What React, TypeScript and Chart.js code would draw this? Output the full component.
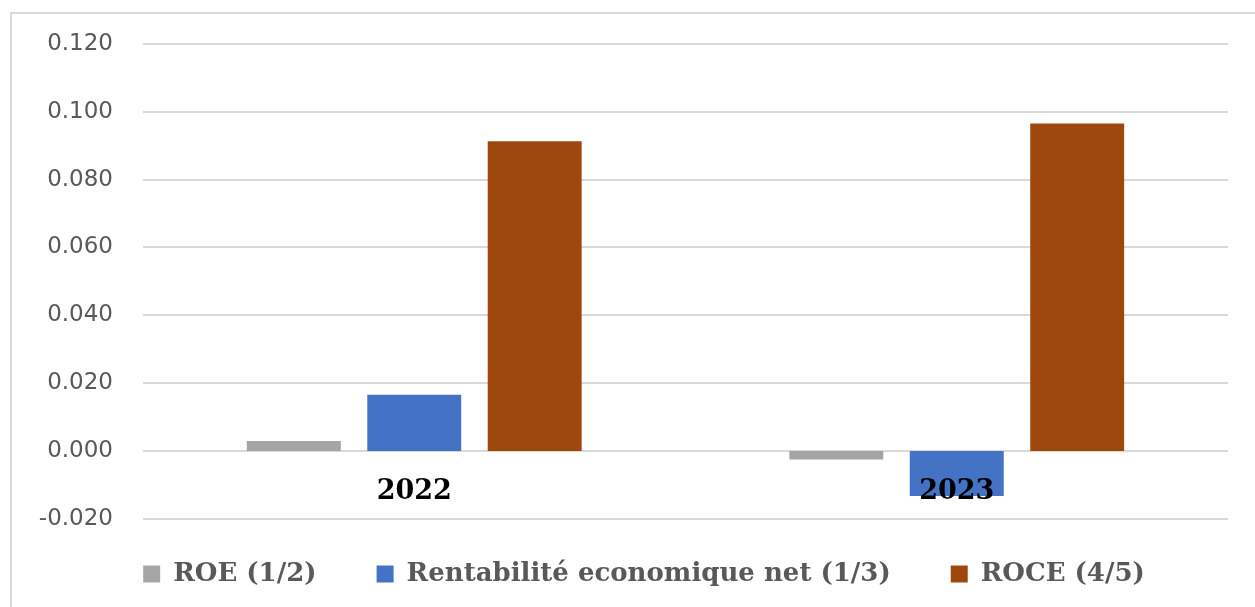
import React, { useEffect, useRef } from "react";
import { Chart, registerables } from "chart.js";

Chart.register(...registerables);

const categories = ["2022", "2023"];
const seriesNames = ["ROE (1/2)", "Rentabilité economique net (1/3)", "ROCE (4/5)"];
const roeValues = [0.003, -0.0025];
const rentabiliteValues = [0.0166, -0.0132];
const roceValues = [0.0913, 0.0965];
const seriesColors = ["#a5a5a5", "#4472c4", "#9e480e"];
const yMin = -0.02;
const yMax = 0.12;
const yStep = 0.02;

const legendShift = {
  id: "legendShift",
  afterLayout(chart: any) {
    const l = chart.legend;
    if (!l) return;
    l.left += 20;
    l.right += 20;
    l.top -= 18;
    l.bottom -= 18;
  },
};

export default function App() {
  const canvasRef = useRef<HTMLCanvasElement | null>(null);

  useEffect(() => {
    const canvas = canvasRef.current;
    if (!canvas) return;
    const values = [roeValues, rentabiliteValues, roceValues];
    const chart = new Chart(canvas, {
      type: "bar",
      data: {
        labels: categories,
        datasets: seriesNames.map((name, i) => ({
          label: name,
          data: values[i],
          backgroundColor: seriesColors[i],
          borderWidth: 0,
          categoryPercentage: 0.666,
          barPercentage: 0.78,
        })),
      },
      plugins: [legendShift],
      options: {
        responsive: false,
        animation: false,
        devicePixelRatio: 1,
        layout: { padding: { left: 20, right: 27, top: 43, bottom: 0 } },
        plugins: {
          tooltip: { enabled: false },
          legend: {
            position: "bottom",
            labels: {
              boxWidth: 17,
              boxHeight: 17,
              padding: 60,
              color: "#595959",
              font: { family: "'DejaVu Serif'", weight: "bold", size: 26 },
            },
          },
        },
        scales: {
          x: {
            position: { y: 0 } as any,
            grid: { display: false, drawTicks: false },
            border: { display: false },
            ticks: {
              z: 1,
              padding: 25,
              color: "#000000",
              font: { family: "'DejaVu Serif'", weight: "bold", size: 27 },
            },
          },
          y: {
            min: yMin,
            max: yMax,
            afterFit: (scale: any) => {
              scale.width = 123;
            },
            grid: { color: "#d9d9d9", lineWidth: 2, drawTicks: false },
            border: { display: false },
            ticks: {
              stepSize: yStep,
              padding: 30,
              color: "#595959",
              font: { family: "'DejaVu Sans'", size: 23 },
              callback: (v: any) => {
                const n = Number(v);
                return (Math.abs(n) < 1e-9 ? 0 : n).toFixed(3);
              },
            },
          },
        },
      },
    });
    return () => chart.destroy();
  }, []);

  return (
    <div
      style={{
        position: "fixed",
        left: 0,
        top: 0,
        width: 1255,
        height: 607,
        overflow: "hidden",
        background: "#ffffff",
      }}
    >
      <div
        style={{
          position: "absolute",
          left: 10,
          top: 12,
          width: 1300,
          height: 700,
          borderLeft: "2px solid #d9d9d9",
          borderTop: "2px solid #d9d9d9",
        }}
      />
      <canvas
        ref={canvasRef}
        width={1255}
        height={615}
        style={{ position: "absolute", left: 0, top: 0, width: 1255, height: 615 }}
      />
    </div>
  );
}
